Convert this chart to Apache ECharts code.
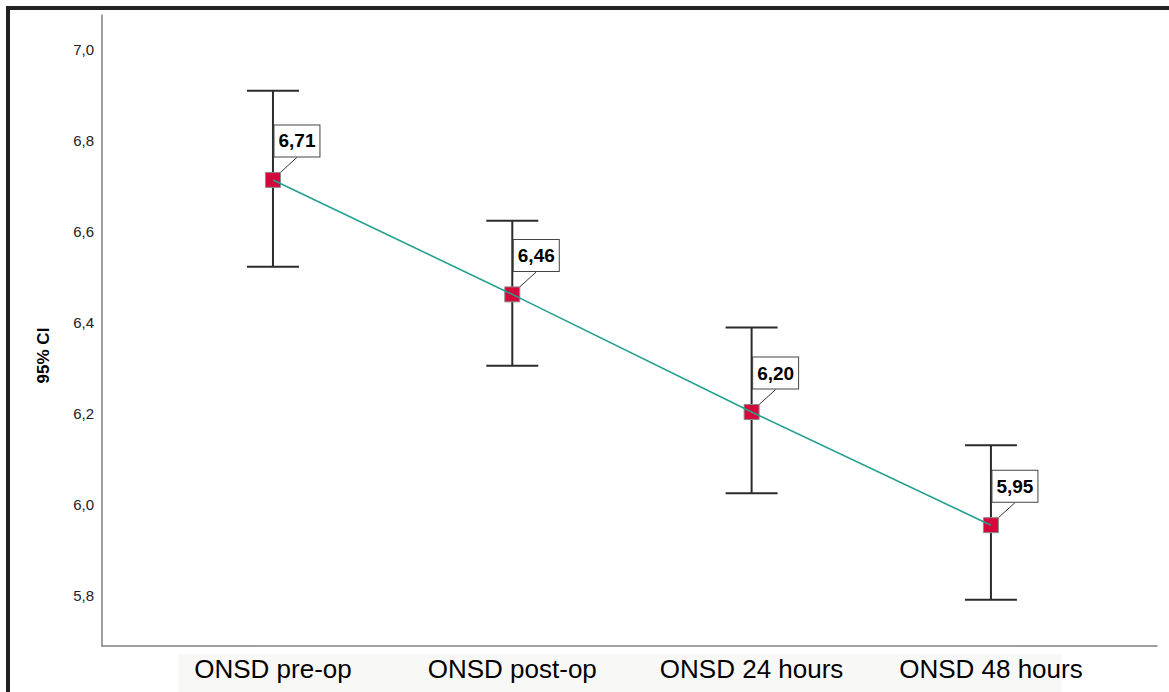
<!DOCTYPE html>
<html>
<head>
<meta charset="utf-8">
<script src="https://cdn.jsdelivr.net/npm/echarts@6/dist/echarts.min.js"></script>
<style>
html,body{margin:0;padding:0;background:#fff;}
#chart{width:1169px;height:692px;}
</style>
</head>
<body>
<div id="chart"></div>
<script>
var categories = ['ONSD pre-op', 'ONSD post-op', 'ONSD 24 hours', 'ONSD 48 hours'];
var means = [6.714, 6.462, 6.203, 5.954];
var lowerCI = [6.523, 6.305, 6.024, 5.790];
var upperCI = [6.910, 6.624, 6.389, 6.130];
var yAxisName = '95% CI';

var Y_MIN = 5.688, Y_MAX = 7.077;

function fmtComma(v, d) { return v.toFixed(d).replace('.', ','); }

var chart = echarts.init(document.getElementById('chart'), null, {renderer: 'svg'});

var option = {
  backgroundColor: '#ffffff',
  animation: false,
  textStyle: {fontFamily: '"Liberation Sans", Arial, sans-serif'},
  graphic: [
    {type: 'rect', z: -10, shape: {x: 178, y: 654, width: 884, height: 40}, style: {fill: '#f8f8f7'}},
    {type: 'rect', z: 100, shape: {x: 8, y: 8, width: 1400, height: 1000}, style: {fill: 'none', stroke: '#222', lineWidth: 4}}
  ],
  grid: [
    {left: 102, right: 12, top: 15, bottom: 46},
    {left: 153.3, right: 58.4, top: 15, bottom: 46}
  ],
  xAxis: [
    {gridIndex: 0, type: 'value', min: 0, max: 1, axisLine: {show: true, lineStyle: {color: '#808080', width: 1.5}},
     axisTick: {show: false}, axisLabel: {show: false}, splitLine: {show: false}},
    {gridIndex: 1, type: 'category', data: categories, boundaryGap: true,
     axisLine: {show: false}, axisTick: {show: false}, splitLine: {show: false},
     axisLabel: {color: '#000', fontSize: 26, margin: 10, fontFamily: '"Liberation Sans", Arial, sans-serif'}}
  ],
  yAxis: [
    {gridIndex: 0, type: 'value', min: Y_MIN, max: Y_MAX, splitNumber: 7,
     name: yAxisName, nameLocation: 'middle', nameGap: 50, nameRotate: 90,
     nameTextStyle: {fontSize: 17, fontWeight: 'bold', color: '#000', padding: [0, 50, 0, 0]},
     axisLine: {show: true, lineStyle: {color: '#808080', width: 1.5}},
     axisTick: {show: false}, splitLine: {show: false},
     axisLabel: {color: '#222', fontSize: 15, margin: 8,
       showMinLabel: false, showMaxLabel: false,
       formatter: function (v) {
         if (Math.abs(v * 5 - Math.round(v * 5)) > 1e-6) return '';
         return fmtComma(v, 1);
       }}},
    {gridIndex: 1, type: 'value', min: Y_MIN, max: Y_MAX, show: false, splitLine: {show: false}}
  ],
  series: [
    {
      type: 'custom', xAxisIndex: 1, yAxisIndex: 1, z: 2,
      data: categories.map(function (c, i) { return [i, lowerCI[i], upperCI[i]]; }),
      renderItem: function (params, api) {
        var x = api.value(0);
        var pLo = api.coord([x, api.value(1)]);
        var pHi = api.coord([x, api.value(2)]);
        var half = 26;
        var st = {stroke: '#2b2b2b', lineWidth: 2};
        return {type: 'group', children: [
          {type: 'line', shape: {x1: pLo[0], y1: pLo[1], x2: pHi[0], y2: pHi[1]}, style: st},
          {type: 'line', shape: {x1: pHi[0] - half, y1: pHi[1], x2: pHi[0] + half, y2: pHi[1]}, style: st},
          {type: 'line', shape: {x1: pLo[0] - half, y1: pLo[1], x2: pLo[0] + half, y2: pLo[1]}, style: st}
        ]};
      }
    },
    {
      type: 'scatter', xAxisIndex: 1, yAxisIndex: 1, z: 3,
      data: means,
      symbol: 'rect', symbolSize: 15,
      itemStyle: {color: '#d6073a', borderColor: '#8c8c8c', borderWidth: 1, opacity: 1},
      label: {
        show: true, position: 'inside',
        formatter: function (p) { return fmtComma(p.value, 2); },
        fontSize: 19, fontWeight: 'bold', color: '#000', lineHeight: 19,
        backgroundColor: '#fff', borderColor: '#444', borderWidth: 1,
        padding: [7, 4, 5, 4]
      },
      labelLayout: {dx: 24, dy: -39},
      labelLine: {show: true, lineStyle: {color: '#333', width: 1, opacity: 1}}
    },
    {
      type: 'line', xAxisIndex: 1, yAxisIndex: 1, z: 4,
      data: means, symbol: 'none',
      lineStyle: {color: '#22a08e', width: 1.6}
    }
  ]
};
chart.setOption(option);
</script>
</body>
</html>
